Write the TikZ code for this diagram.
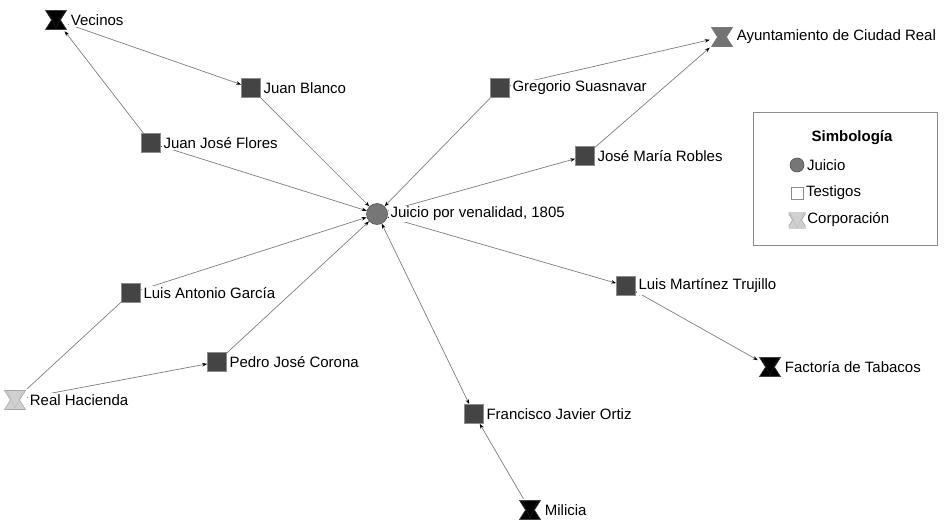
\documentclass[tikz,border=0pt]{standalone}
\usepackage{fontspec}
\setmainfont{Liberation Sans}
\usetikzlibrary{arrows.meta,backgrounds}
\definecolor{cuadro}{RGB}{68,68,68}
\definecolor{circulo}{RGB}{118,118,118}
\definecolor{linea}{RGB}{125,125,125}
\definecolor{borde}{RGB}{140,140,140}
\definecolor{ayunt}{RGB}{115,115,115}
\definecolor{hacienda}{RGB}{208,208,208}

% reloj de arena (corporaciones)
\newcommand{\reloj}[2]{%
  \begin{scope}[shift={(path picture bounding box.center)}, scale=#2]
    \filldraw[fill=#1, draw=#1!50!gray, line width=0.6pt]
      (-10.5pt,9.5pt) -- (10.5pt,9.5pt) -- (4.5pt,0pt) -- (10.5pt,-9.5pt)
      -- (-10.5pt,-9.5pt) -- (-4.5pt,0pt) -- cycle;
    \draw[#1!75!gray, line width=0.5pt] (-8pt,9.5pt) -- (0pt,-8pt) -- (8pt,9.5pt);
  \end{scope}}

\tikzset{
  nombre/.style={font=\fontsize{15}{17}\selectfont, fill=white, inner sep=1.5pt},
  testigo/.style={rectangle, draw=borde, fill=cuadro, line width=0.6pt, minimum size=19pt, inner sep=0pt},
  juicio/.style={circle, draw=circulo!70!black, fill=circulo, line width=0.6pt, minimum size=21pt, inner sep=0pt},
  corp/.style={rectangle, minimum width=24pt, minimum height=22pt, inner sep=0pt, path picture={\reloj{#1}{1}}},
  flecha/.style={draw=linea, line width=0.7pt, -{Stealth[length=5pt,width=3.5pt,color=black]}},
  ambas/.style={draw=linea, line width=0.7pt, {Stealth[length=5pt,width=3.5pt,color=black]}-{Stealth[length=5pt,width=3.5pt,color=black]}},
  linea/.style={draw=linea, line width=0.7pt}
}

\begin{document}
\begin{tikzpicture}[x=1pt,y=-1pt]
  \useasboundingbox (0,0) rectangle (944,522);

  \node[juicio, label={[nombre, label distance=1pt]right:Juicio por venalidad, 1805}] (juicio) at (377,214) {};

  \node[corp=black, label={[nombre, label distance=1pt]right:Vecinos}] (vecinos) at (56,20) {};
  \node[testigo, label={[nombre, label distance=1pt]right:Juan Blanco}] (blanco) at (251,88) {};
  \node[testigo, label={[nombre, label distance=1pt]right:Juan José Flores}] (flores) at (151,143) {};
  \node[testigo, label={[nombre, label distance=1pt]right:Gregorio Suasnavar}] (gregorio) at (500,88) {};
  \node[corp=ayunt, label={[nombre, label distance=1pt]right:Ayuntamiento de Ciudad Real}] (ayunt) at (722,37) {};
  \node[testigo, label={[nombre, label distance=1pt]right:José María Robles}] (robles) at (585,156) {};
  \node[testigo, label={[nombre, label distance=1pt]right:Luis Martínez Trujillo}] (trujillo) at (626,286) {};
  \node[corp=black, label={[nombre, label distance=1pt]right:Factoría de Tabacos}] (factoria) at (770,367) {};
  \node[testigo, label={[nombre, label distance=1pt]right:Francisco Javier Ortiz}] (ortiz) at (474,414) {};
  \node[corp=black, label={[nombre, label distance=1pt]right:Milicia}] (milicia) at (530,510) {};
  \node[testigo, label={[nombre, label distance=1pt]right:Luis Antonio García}] (garcia) at (131,293) {};
  \node[testigo, label={[nombre, label distance=1pt]right:Pedro José Corona}] (corona) at (217,362) {};
  \node[corp=hacienda, label={[nombre, label distance=1pt]right:Real Hacienda}] (hacienda) at (15,400) {};

  % simbologia
  \node[draw=borde, line width=0.7pt, minimum width=184pt, minimum height=133pt] (leyenda) at (845,178.5) {};
  \node[font=\fontsize{15}{17}\selectfont\bfseries] (titulo) at (852,138) {Simbología};
  \node[juicio, minimum size=14pt, label={[nombre, label distance=1pt]right:Juicio}] (ljuicio) at (797,165) {};
  \node[rectangle, draw=borde, fill=white, line width=0.6pt, minimum size=12pt, inner sep=0pt, label={[nombre, label distance=1pt]right:Testigos}] (ltestigo) at (797,193) {};
  \node[rectangle, minimum width=17pt, minimum height=16pt, inner sep=0pt, path picture={\reloj{hacienda}{0.68}}, label={[nombre, label distance=0pt]right:Corporación}] (lcorp) at (797,220) {};

  \begin{scope}[on background layer]
    \draw[flecha] (vecinos) -- (blanco);
    \draw[flecha] (flores) -- (vecinos);
    \draw[flecha] (blanco) -- (juicio);
    \draw[ambas] (flores) -- (juicio);
    \draw[flecha] (gregorio) -- (juicio);
    \draw[flecha] (gregorio) -- (ayunt);
    \draw[flecha] (juicio) -- (robles);
    \draw[flecha] (robles) -- (ayunt);
    \draw[flecha] (garcia) -- (juicio);
    \draw[linea] (hacienda) -- (garcia);
    \draw[flecha] (hacienda) -- (corona);
    \draw[flecha] (corona) -- (juicio);
    \draw[ambas] (juicio) -- (trujillo);
    \draw[ambas] (factoria) -- (trujillo);
    \draw[ambas] (juicio) -- (ortiz);
    \draw[flecha] (milicia) -- (ortiz);
  \end{scope}
\end{tikzpicture}
\end{document}
